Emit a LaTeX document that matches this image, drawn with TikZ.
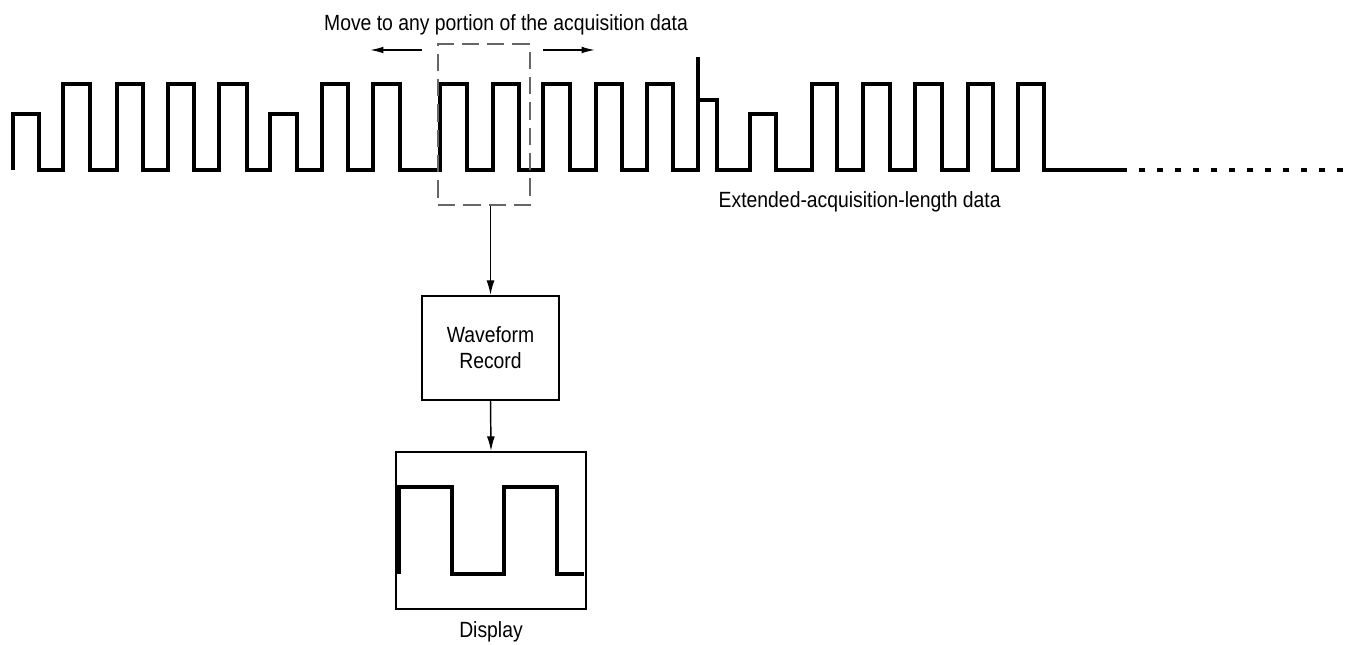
\documentclass[tikz,border=0pt]{standalone}
\usepackage{fontspec}
\setmainfont{Liberation Sans}[FakeStretch=0.88]
\usepackage{tikz}
\usetikzlibrary{arrows.meta,positioning}

\begin{document}
\begin{tikzpicture}[
  x=0.75pt, y=-0.75pt,
  font=\fontsize{16.5}{19.5}\selectfont,
  wave/.style={
    line width=2.3pt,
    line join=miter
  },
  winbox/.style={
    draw=black!60,
    dashed,
    dash pattern=on 13pt off 6pt,
    line width=1pt,
    minimum width=69pt,
    minimum height=120.75pt,
    inner sep=0pt
  },
  blockbox/.style={
    draw,
    line width=1.5pt,
    align=center,
    inner sep=0pt
  },
  myarrow/.style={
    line width=1.1pt,
    -{Latex[length=11pt,width=6pt]}
  }
]
\useasboundingbox (0,0) rectangle (1351,645);

% acquisition data
\draw[wave] (13,170) |- (39,114) |- (63,170) |- (90,84) |- (117,170)
  |- (143,84) |- (168,170) |- (194,84) |- (219,170) |- (247,84)
  |- (270,170) |- (297,114) |- (322,170) |- (348,84) |- (373,170)
  |- (400,84) |- (440,170) |- (467,84) |- (493,170) |- (519,84)
  |- (543,170) |- (570,84) |- (596,170) |- (622,84) |- (647,170)
  |- (673,84) |- (698,170) -- (698,57);
\draw[wave] (698,100) -- (717,100) |- (750,170) |- (776,114) |- (812,170)
  |- (837,84) |- (863,170) |- (890,84) |- (915,170) |- (942,84)
  |- (968,170) |- (993,84) |- (1018,170) |- (1044,84) |- (1127,170);
\draw[wave, dash pattern=on 4.5pt off 9pt] (1139,170) -- (1351,170);

\node (movetxt) at (506,25) {Move to any portion of the acquisition data};
\node[anchor=west] (extxt) at (714,202) {Extended-acquisition-length data};

\node[winbox] (window) at (484,124.5) {};
\coordinate (lstart) at (422,50);
\coordinate (lend) at (370,50);
\coordinate (rstart) at (543,50);
\coordinate (rend) at (595,50);
\draw[myarrow, -{Latex[length=10pt,width=5pt]}] (lstart) -- (lend);
\draw[myarrow, -{Latex[length=10pt,width=5pt]}] (rstart) -- (rend);

\node[blockbox, minimum width=102.75pt, minimum height=78pt] (record)
  at (490.5,348) {Waveform\\Record};
\node[blockbox, minimum width=142.5pt, minimum height=117.75pt] (display)
  at (491,530.5) {};
\node[below=5pt of display] (disptxt) {Display};

% screen trace
\draw[wave] (399,574) |- (452,487) |- (504,574) |- (557,487) |- (584,574);

\draw[myarrow] (record.north |- window.south) -- (record.north);
\draw[myarrow] (record.south) -- (display.north);
\end{tikzpicture}
\end{document}
